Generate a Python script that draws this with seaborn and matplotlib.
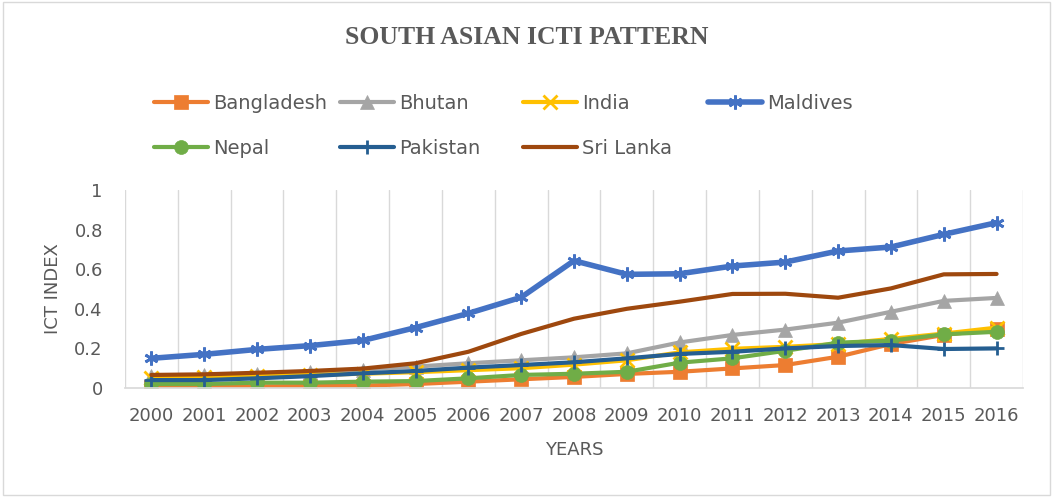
import matplotlib
matplotlib.use("Agg")
import matplotlib.pyplot as plt
from matplotlib.patches import Rectangle
import seaborn as sns
import numpy as np

# data
years = list(range(2000, 2017))
countries = ["Bangladesh", "Bhutan", "India", "Maldives", "Nepal", "Pakistan", "Sri Lanka"]
bangladesh = [0.003, 0.005, 0.008, 0.010, 0.012, 0.020, 0.032, 0.044, 0.056, 0.071, 0.082, 0.099, 0.116, 0.158, 0.222, 0.268, 0.298]
bhutan = [0.062, 0.065, 0.072, 0.082, 0.093, 0.108, 0.125, 0.140, 0.155, 0.175, 0.230, 0.268, 0.295, 0.330, 0.385, 0.440, 0.455]
india = [0.050, 0.055, 0.060, 0.066, 0.072, 0.080, 0.090, 0.100, 0.118, 0.140, 0.180, 0.198, 0.208, 0.222, 0.248, 0.275, 0.305]
maldives = [0.150, 0.170, 0.195, 0.214, 0.240, 0.305, 0.377, 0.458, 0.643, 0.574, 0.577, 0.616, 0.636, 0.692, 0.712, 0.776, 0.835]
nepal = [0.020, 0.020, 0.027, 0.027, 0.032, 0.035, 0.049, 0.066, 0.072, 0.082, 0.128, 0.150, 0.188, 0.229, 0.239, 0.271, 0.284]
pakistan = [0.040, 0.040, 0.049, 0.060, 0.074, 0.086, 0.103, 0.116, 0.130, 0.150, 0.172, 0.183, 0.200, 0.212, 0.217, 0.197, 0.200]
sri_lanka = [0.066, 0.069, 0.077, 0.086, 0.098, 0.125, 0.183, 0.273, 0.350, 0.400, 0.436, 0.475, 0.476, 0.456, 0.503, 0.574, 0.576]
yticks = [0, 0.2, 0.4, 0.6, 0.8, 1]
ytick_labels = ["0", "0.2", "0.4", "0.6", "0.8", "1"]

series = [bangladesh, bhutan, india, maldives, nepal, pakistan, sri_lanka]
colors = ["#ED7D31", "#A5A5A5", "#FFC000", "#4472C4", "#70AD47", "#255E91", "#9E480E"]
markers = ["s", "^", "x", (6, 2, 0), "o", "+", None]
widths = [3, 3, 3, 4, 3, 3, 3]

sns.set_theme(style="white")
plt.rcParams["font.family"] = ["DejaVu Sans"]
grey = "#595959"

fig = plt.figure(figsize=(10.53, 4.97), dpi=100)
ax = fig.add_axes([0.1187, 0.2193, 0.8528, 0.3984])

for name, vals, c, m, lw in zip(countries, series, colors, markers, widths):
    sns.lineplot(x=years, y=vals, ax=ax, color=c, marker=m, markersize=10,
                 markeredgewidth=2 if m in ("x", "+", (6, 2, 0)) else 0.5,
                 markeredgecolor=c, linewidth=lw, label=name)

ax.set_xlim(1999.5, 2016.5)
ax.set_ylim(0, 1)
ax.set_xticks(years)
ax.set_xticklabels([str(y) for y in years], fontsize=13, color=grey)
ax.set_xticks(np.arange(1999.5, 2017, 1), minor=True)
ax.set_yticks(yticks)
ax.set_yticklabels(ytick_labels, fontsize=13, color=grey)
ax.grid(False)
ax.grid(True, which="minor", axis="x", color="#D9D9D9", linewidth=1)
ax.tick_params(axis="x", which="both", length=0, pad=14)
ax.tick_params(axis="y", which="both", length=0, pad=16)
for s in ["top", "right", "left"]:
    ax.spines[s].set_visible(False)
ax.spines["bottom"].set_color("#D9D9D9")
ax.set_xlabel("YEARS", fontsize=13, color=grey, labelpad=11)
ax.set_ylabel("ICT INDEX", fontsize=13, color=grey, labelpad=9)

# legend: one legend per column so columns sit at fixed spacing like the original
handles, labels = ax.get_legend_handles_labels()
ax.get_legend().remove()
columns = [[0, 4], [1, 5], [2, 6], [3]]
col_x = [154, 340, 523, 708]
for idx, x in zip(columns, col_x):
    fig.legend([handles[i] for i in idx], [labels[i] for i in idx],
               loc="upper left", bbox_to_anchor=(x / 1053, 1 - 94 / 497),
               frameon=False, fontsize=14, labelcolor=grey, handlelength=2.8,
               labelspacing=1.35, handletextpad=0.25, borderpad=0, borderaxespad=0)

fig.text(0.5, 1 - 38 / 497, "SOUTH ASIAN ICTI PATTERN", ha="center", va="center",
         fontsize=18.5, fontweight="bold", color=grey, family="Liberation Serif")

fig.patches.append(Rectangle((0.003, 0.005), 0.994, 0.99, transform=fig.transFigure,
                             fill=False, edgecolor="#D9D9D9", linewidth=1))

fig.savefig("out.png", dpi=100)
